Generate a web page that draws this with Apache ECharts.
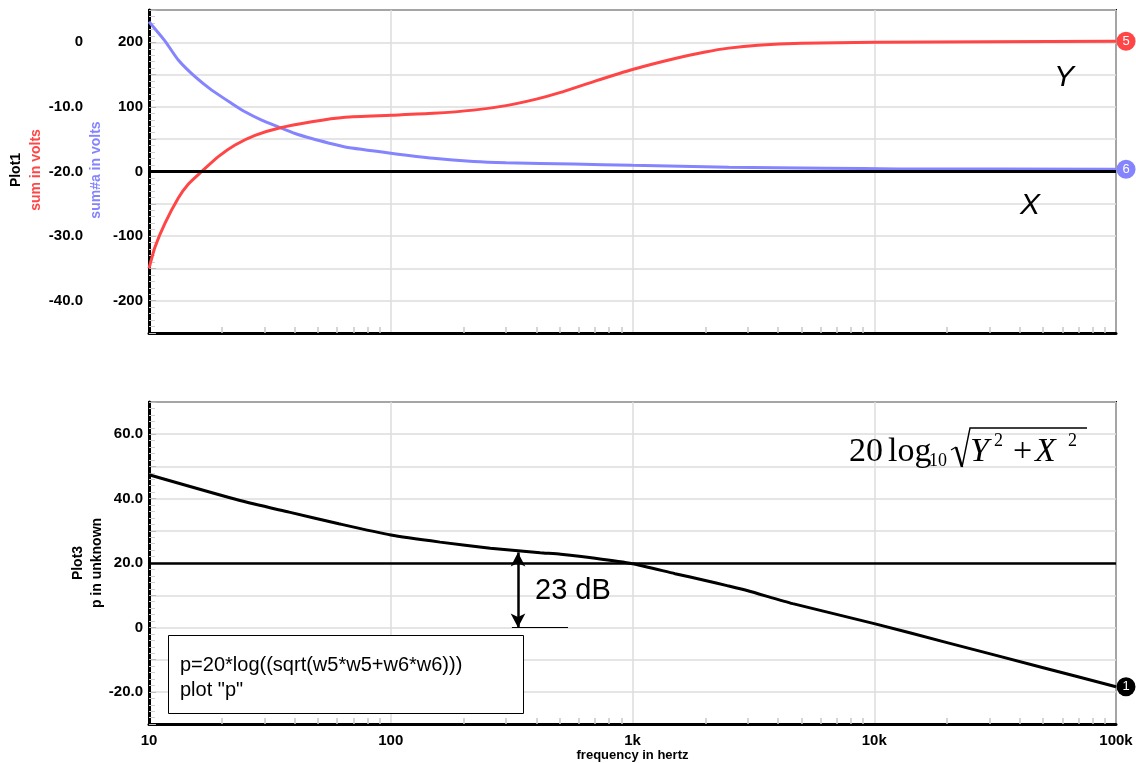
<!DOCTYPE html>
<html><head><meta charset="utf-8">
<script src="https://cdn.jsdelivr.net/npm/echarts@6/dist/echarts.min.js"></script>
<style>html,body{margin:0;padding:0;background:#fff}#c{width:1136px;height:763px}</style>
</head><body><div id="c"></div>
<script>
// ---- data ----
const redFreq  = [10, 10.59, 11.65, 13.22, 14.5, 16.52, 19.35, 22.7, 27.45, 34.3, 47.1, 64.7, 100, 150, 220, 300, 400, 500, 700, 1000, 1500, 2000, 2500, 3300, 5000, 10000, 30000, 100000];
const redVolts = [-35.0, -31.7, -28.0, -24.1, -22.0, -20.0, -17.7, -15.9, -14.4, -13.3, -12.3, -11.6, -11.3, -11.0, -10.5, -9.8, -8.8, -7.8, -6.0, -4.2, -2.5, -1.5, -0.9, -0.45, -0.15, 0, 0.1, 0.15];
const blueFreq  = [10, 11.65, 13.22, 15.5, 18.17, 21.98, 24.95, 29.25, 34.26, 40.2, 47.1, 55.2, 64.7, 100, 150, 220, 300, 570, 1000, 2500, 6300, 12600, 100000];
const blueVolts = [231.8, 201.9, 172.5, 146.7, 126.0, 105.4, 92.4, 79.5, 69.1, 58.8, 51.0, 44.2, 38.0, 28.4, 20.5, 15.5, 13.5, 11.5, 9.5, 6.7, 5.2, 4.0, 3.5];
const pFreq   = [10, 23.8, 38, 61, 100, 160, 258, 415, 505, 700, 1000, 1500, 2000, 2460, 3000, 4600, 10000, 20000, 50000, 100000];
const pValues = [47.4, 39.4, 35.8, 32.2, 28.7, 26.5, 24.6, 23.2, 22.7, 21.5, 19.8, 16.7, 14.6, 13.0, 11.4, 7.4, 1.2, -4.7, -12.5, -18.4];
const xTickLabels = {10: '10', 100: '100', 1000: '1k', 10000: '10k', 100000: '100k'};
const innerTopTicks = [-200, -100, 0, 100, 200];
const minorDecades = [10, 100, 1000, 10000];
const minorMult = [2, 3, 4, 5, 6, 7, 8, 9];
const arrowFreq = 336, arrowTop = 23.3;
const baseLineFreq = [317, 541];
const endMarks = ['5', '6', '1'];

const RED = '#ff4545', BLUE = '#8484ff', FONT = 'Liberation Sans, Arial, sans-serif';
const SERIF = 'Liberation Serif, Times New Roman, serif';
const zip = (a, b) => a.map((v, i) => [v, b[i]]);
const minorLog = [];
minorDecades.forEach(d => minorMult.forEach(m => minorLog.push(Math.log10(d * m))));

const gridStyle = {show: true, lineStyle: {color: '#dcdcdc', width: 1.5}};
const lbl = {color: '#000', fontWeight: 'bold', fontSize: 15, fontFamily: FONT};
function fmt1(v) { return v === 0 ? '0' : v.toFixed(1); }

function logX(grid, showLabels) {
  return {
    type: 'log', logBase: 10, gridIndex: grid, min: 10, max: 100000, splitNumber: 4,
    axisLine: {show: true, onZero: false, lineStyle: {color: '#000', width: 3}},
    axisTick: {show: false},
    splitLine: gridStyle,
    axisLabel: showLabels ? Object.assign({margin: 9, showMaxLabel: true, showMinLabel: true,
      formatter: v => xTickLabels[Math.round(v)] || ''}, lbl) : {show: false},
    name: showLabels ? 'frequency in hertz' : '',
    nameLocation: 'middle', nameGap: 22,
    nameTextStyle: {color: '#000', fontWeight: 'bold', fontSize: 13, fontFamily: FONT}
  };
}
function minorX(grid) {
  return {
    type: 'value', gridIndex: grid, min: 1, max: 5, position: 'bottom', offset: 0,
    axisLine: {show: false, onZero: false}, splitLine: {show: false}, axisLabel: {show: false},
    axisTick: {show: true, inside: true, length: 6, customValues: minorLog, lineStyle: {color: '#c8c8c8', width: 1.5}}
  };
}
const yTick = {show: true, inside: true, length: 7, lineStyle: {color: '#bbb', width: 1}};
const yMinor = {show: true, splitNumber: 5, length: 6, lineStyle: {color: '#cfcfcf', width: 1}};
function endMark(text, color, xs, ys) {
  return {symbol: 'circle', symbolSize: 19, symbolOffset: [10, 0], itemStyle: {color: color},
    label: {show: true, formatter: text, color: '#fff', fontSize: 13, fontFamily: FONT},
    data: [{coord: [xs[xs.length - 1], ys[ys.length - 1]]}]};
}
function txt(x, y, text, font, extra) {
  return {type: 'text', x: x, y: y, z: 100, style: Object.assign({text: text, fill: '#000', font: font, verticalAlign: 'middle'}, extra || {})};
}
function rot(x, y, text, color) {
  return {type: 'text', x: x, y: y, rotation: Math.PI / 2, z: 100,
    style: {text: text, fill: color, font: 'bold 14px ' + FONT, align: 'center', verticalAlign: 'middle'}};
}

const option = {
  animation: false,
  textStyle: {fontFamily: FONT},
  grid: [
    {left: 149, right: 20, top: 10, height: 323, show: true, borderColor: '#000', borderWidth: 2, backgroundColor: '#fff'},
    {left: 149, right: 20, top: 402, height: 323, show: true, borderColor: '#000', borderWidth: 2, backgroundColor: '#fff'}
  ],
  xAxis: [logX(0, false), logX(1, true), minorX(0), minorX(1)],
  yAxis: [
    {type: 'value', gridIndex: 0, min: -250, max: 250, interval: 50, position: 'left',
     axisLine: {show: true, onZero: false, lineStyle: {color: '#000', width: 3}},
     axisTick: yTick, minorTick: yMinor, splitLine: gridStyle,
     axisLabel: Object.assign({margin: 6, formatter: v => innerTopTicks.indexOf(v) >= 0 ? String(v) : ''}, lbl)},
    {type: 'value', gridIndex: 0, min: -45, max: 5, interval: 5, position: 'left', offset: 60,
     axisLine: {show: false}, axisTick: {show: false}, splitLine: {show: false},
     axisLabel: Object.assign({margin: 6, formatter: v => (Math.round(v) % 10 === 0 ? fmt1(v) : '')}, lbl)},
    {type: 'value', gridIndex: 1, min: -30, max: 70, interval: 10, position: 'left',
     axisLine: {show: true, onZero: false, lineStyle: {color: '#000', width: 3}},
     axisTick: yTick, minorTick: yMinor, splitLine: gridStyle,
     axisLabel: Object.assign({margin: 6, formatter: v => (Math.round(v) % 20 === 0 ? fmt1(v) : '')}, lbl)}
  ],
  series: [
    {type: 'line', name: 'sum#a', xAxisIndex: 0, yAxisIndex: 0, data: zip(blueFreq, blueVolts),
     showSymbol: false, smooth: 0.2, clip: false, lineStyle: {color: BLUE, width: 3}, itemStyle: {color: BLUE}, z: 3,
     markLine: {silent: true, symbol: ['none', 'none'], label: {show: false}, lineStyle: {color: '#000', width: 3, type: 'solid'},
       data: [{yAxis: 0}]},
     markPoint: endMark(endMarks[1], BLUE, blueFreq, blueVolts)},
    {type: 'line', name: 'sum', xAxisIndex: 0, yAxisIndex: 1, data: zip(redFreq, redVolts),
     showSymbol: false, smooth: 0.2, clip: false, lineStyle: {color: RED, width: 3}, itemStyle: {color: RED}, z: 4,
     markPoint: endMark(endMarks[0], RED, redFreq, redVolts)},
    {type: 'line', name: 'p', xAxisIndex: 1, yAxisIndex: 2, data: zip(pFreq, pValues),
     showSymbol: false, smooth: 0.2, clip: false, lineStyle: {color: '#000', width: 3}, itemStyle: {color: '#000'}, z: 4,
     markLine: {silent: true, symbol: ['none', 'none'], label: {show: false}, lineStyle: {color: '#000', type: 'solid'},
       data: [
         {yAxis: 20, lineStyle: {width: 2.5}},
         [{coord: [arrowFreq, 0], symbol: 'arrow', symbolSize: [11, 14], lineStyle: {width: 2.5}},
          {coord: [arrowFreq, arrowTop], symbol: 'arrow', symbolSize: [11, 14]}],
         [{coord: [baseLineFreq[0], 0], lineStyle: {width: 1}}, {coord: [baseLineFreq[1], 0]}]
       ]},
     markPoint: endMark(endMarks[2], '#000', pFreq, pValues)}
  ],
  graphic: [
    rot(16, 170, 'Plot1', '#000'),
    rot(36, 170, 'sum in volts', RED),
    rot(96, 170, 'sum#a in volts', BLUE),
    rot(78, 563, 'Plot3', '#000'),
    rot(97, 563, 'p in unknown', '#000'),
    txt(1064, 78, 'Y', 'italic 30px ' + FONT, {align: 'center'}),
    txt(1030, 206, 'X', 'italic 30px ' + FONT, {align: 'center'}),
    txt(535, 591, '23 dB', '29px ' + FONT),
    {type: 'rect', z: 100, shape: {x: 168.5, y: 635.5, width: 355, height: 78}, style: {fill: '#fff', stroke: '#000', lineWidth: 1}},
    txt(180, 665, 'p=20*log((sqrt(w5*w5+w6*w6)))', '20px ' + FONT),
    txt(180, 690, 'plot "p"', '20px ' + FONT),
    // formula 20 log10 sqrt(Y^2 + X^2)
    txt(849, 452.5, '20', '34px ' + SERIF),
    txt(888, 452.5, 'log', '34px ' + SERIF),
    txt(929, 461.5, '10', '18px ' + SERIF),
    {type: 'polyline', z: 100, shape: {points: [[951, 450], [956, 447]]}, style: {stroke: '#000', lineWidth: 1.2, fill: null}},
    {type: 'polyline', z: 100, shape: {points: [[956, 447], [962, 467]]}, style: {stroke: '#000', lineWidth: 2.6, fill: null}},
    {type: 'polyline', z: 100, shape: {points: [[962, 467], [970, 428], [1087, 428]]}, style: {stroke: '#000', lineWidth: 1.4, fill: null}},
    txt(970, 452.5, 'Y', 'italic 34px ' + SERIF),
    txt(994, 441.5, '2', '18px ' + SERIF),
    txt(1013, 452.5, '+', '34px ' + SERIF),
    txt(1035, 452.5, 'X', 'italic 34px ' + SERIF),
    txt(1068, 441.5, '2', '18px ' + SERIF)
  ]
};
const chart = echarts.init(document.getElementById('c'), null, {renderer: 'canvas'});
chart.setOption(option);
</script>
</body></html>
